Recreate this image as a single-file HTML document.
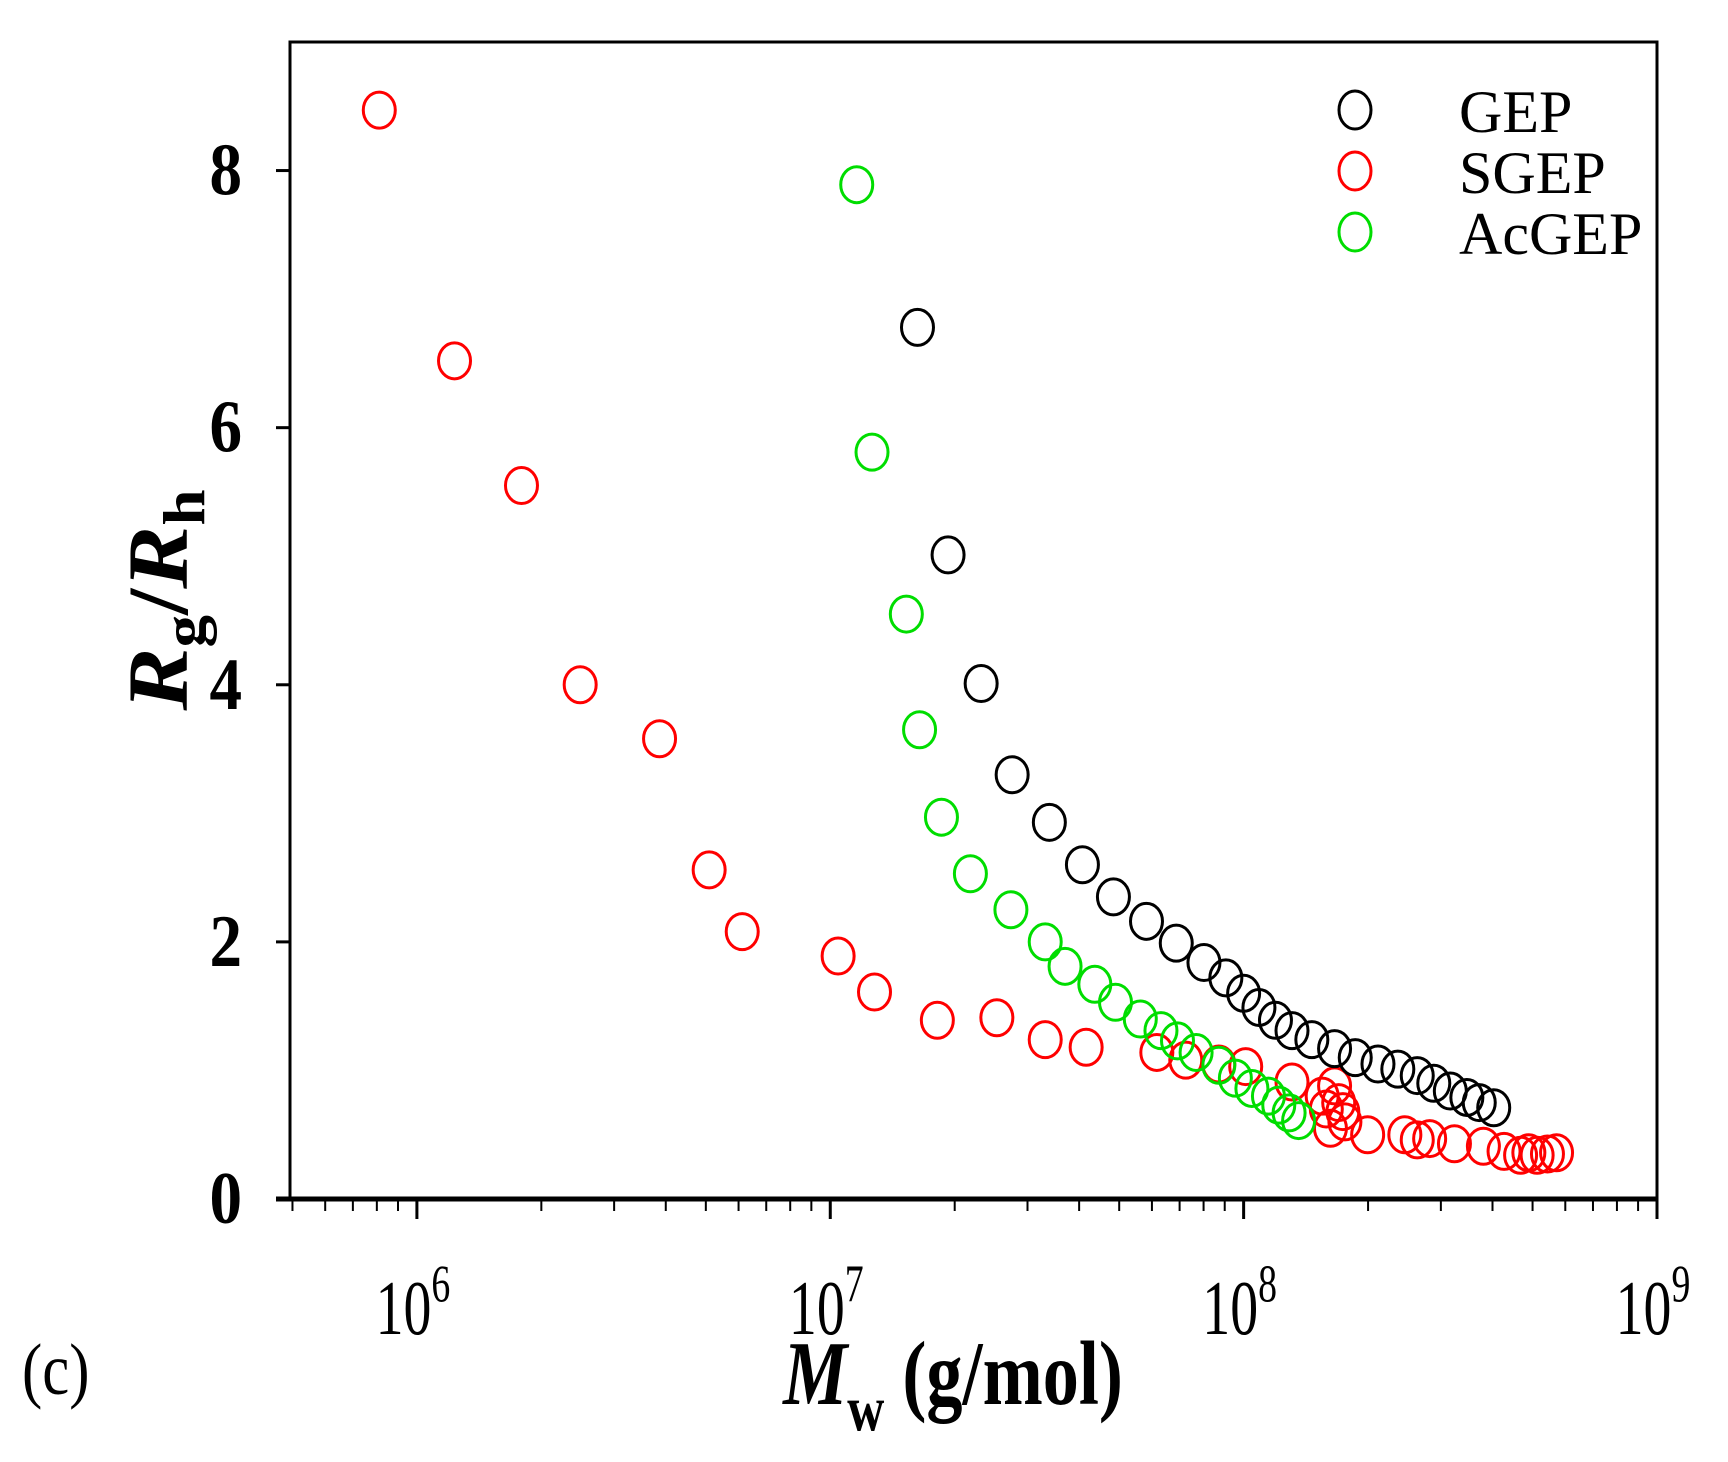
<!DOCTYPE html>
<html><head><meta charset="utf-8"><style>
html,body{margin:0;padding:0;background:#fff;}
svg{display:block;}
text{font-family:"Liberation Serif",serif;}
</style></head><body>
<svg id="chart" width="1728" height="1462" viewBox="0 0 1728 1462" xmlns="http://www.w3.org/2000/svg">
<rect width="1728" height="1462" fill="#fff"/>
<g id="plot"></g>
<g id="axes"></g>
<text transform="translate(187,600) rotate(-90) scale(1.05,0.95)" text-anchor="middle" font-size="90" font-weight="bold"><tspan font-style="italic">R</tspan><tspan font-size="62" dy="18">g</tspan><tspan dy="-18">/</tspan><tspan font-style="italic">R</tspan><tspan font-size="62" dy="18">h</tspan></text>
<text transform="translate(953,1404) scale(0.95,1.2)" text-anchor="middle" font-size="76" font-weight="bold"><tspan font-style="italic">M</tspan><tspan font-size="54" dy="22">w</tspan><tspan dy="-22"> (g/mol)</tspan></text>
<text transform="translate(22,1394) scale(0.95,1.15)" font-size="64">(c)</text>
<g>
<ellipse cx="1355" cy="110" rx="16" ry="19" fill="none" stroke="#000" stroke-width="3"/>
<text x="1459" y="132" font-size="60">GEP</text>
<ellipse cx="1355" cy="171" rx="16" ry="19" fill="none" stroke="#f00" stroke-width="3"/>
<text x="1459" y="193" font-size="60">SGEP</text>
<ellipse cx="1355" cy="232" rx="16" ry="19" fill="none" stroke="#0d0" stroke-width="3"/>
<text x="1459" y="254" font-size="60">AcGEP</text>
</g>
</svg>
<script>
const yTicks=[0,2,4,6,8];
const xDecades=[6,7,8,9];
const xTickLabels=["6","7","8","9"];
const gepLogMw=[7.211,7.285,7.365,7.44,7.53,7.61,7.685,7.765,7.837,7.904,7.957,8.0,8.037,8.077,8.117,8.165,8.22,8.27,8.325,8.373,8.42,8.46,8.5,8.54,8.57,8.605];
const gepRatio=[6.78,5.01,4.01,3.30,2.93,2.60,2.35,2.16,1.99,1.84,1.72,1.60,1.49,1.39,1.31,1.24,1.17,1.10,1.05,1.01,0.96,0.90,0.84,0.79,0.75,0.71];
const sgepLogMw=[5.909,6.091,6.253,6.395,6.587,6.707,6.787,7.019,7.107,7.259,7.403,7.52,7.619,7.79,7.86,7.94,8.005,8.117,8.19,8.2,8.22,8.23,8.245,8.21,8.24,8.30,8.39,8.42,8.45,8.51,8.58,8.63,8.67,8.69,8.71,8.735,8.757];
const sgepRatio=[8.47,6.52,5.55,4.0,3.58,2.56,2.08,1.89,1.61,1.39,1.41,1.24,1.18,1.14,1.08,1.05,1.03,0.91,0.80,0.70,0.88,0.75,0.60,0.55,0.68,0.50,0.50,0.46,0.47,0.43,0.41,0.37,0.34,0.36,0.34,0.35,0.36];
const acgepLogMw=[7.064,7.101,7.184,7.216,7.269,7.339,7.437,7.52,7.568,7.64,7.69,7.75,7.80,7.84,7.885,7.94,7.98,8.02,8.06,8.085,8.11,8.133];
const acgepRatio=[7.89,5.81,4.55,3.65,2.97,2.53,2.25,2.0,1.81,1.67,1.53,1.40,1.31,1.23,1.14,1.04,0.94,0.86,0.80,0.73,0.67,0.61];

const NS="http://www.w3.org/2000/svg";
const X0=290,X1=1657,Y0=1199,Y1=42;
const LMIN=5.693,LMAX=9.0,YMAX=9.0;
function xs(l){return X0+(l-LMIN)/(LMAX-LMIN)*(X1-X0);}
function ys(v){return Y0-v/YMAX*(Y0-Y1);}
function mk(tag,attrs,parent){const e=document.createElementNS(NS,tag);for(const k in attrs)e.setAttribute(k,attrs[k]);parent.appendChild(e);return e;}
const axes=document.getElementById('axes'),plot=document.getElementById('plot');

let f=mk('rect',{x:X0,y:Y1,width:X1-X0,height:Y0-Y1,fill:'none',stroke:'#000','stroke-width':3},axes);


let b=mk('line',{x1:X0-14,y1:Y0,x2:X1,y2:Y0,stroke:'#000','stroke-width':5},axes);



yTicks.forEach(v=>{
  const y=ys(v);
  let t=mk('line',{x1:X0-14,y1:y,x2:X0,y2:y,stroke:'#000','stroke-width':3},axes);
  
  
  let l=mk('text',{transform:'translate(242,'+(y+24)+') scale(1.05,1.2)','text-anchor':'end','font-size':62,'font-weight':'bold'},axes);
  l.textContent=String(v);
  
  
});
for(let d=5;d<=8;d++){
  for(let m=1;m<=9;m++){
    const l=d+Math.log10(m);
    if(l<LMIN-1e-6||l>LMAX+1e-6)continue;
    const x=xs(l);
    let t=mk('line',{x1:x,y1:Y0,x2:x,y2:Y0+(m===1?20:12),stroke:'#000','stroke-width':m===1?3:2},axes);
    
    
  }
}
{const x=xs(9);let t=mk('line',{x1:x,y1:Y0,x2:x,y2:Y0+20,stroke:'#000','stroke-width':3},axes);

}
xDecades.forEach((d,i)=>{
  const x=xs(d);
  let l=mk('text',{transform:'translate('+(x-4)+',1334) scale(0.9,1.25)','text-anchor':'middle','font-size':62},axes);
  l.textContent='10';
  
  
  let s=mk('tspan',{'font-size':42,dy:-26},l);
  s.textContent=xTickLabels[i];
});

function series(lx,vy,color,name){
  const g=mk('g',{},plot);
  
  
  lx.forEach((l,i)=>{
    let e=mk('ellipse',{cx:xs(l),cy:ys(vy[i]),rx:16,ry:18,fill:'none',stroke:color,'stroke-width':3},g);
    
    
  });
}
series(sgepLogMw,sgepRatio,'#f00','sgep');
series(acgepLogMw,acgepRatio,'#0d0','acgep');
series(gepLogMw,gepRatio,'#000','gep');
</script>
</body></html>
